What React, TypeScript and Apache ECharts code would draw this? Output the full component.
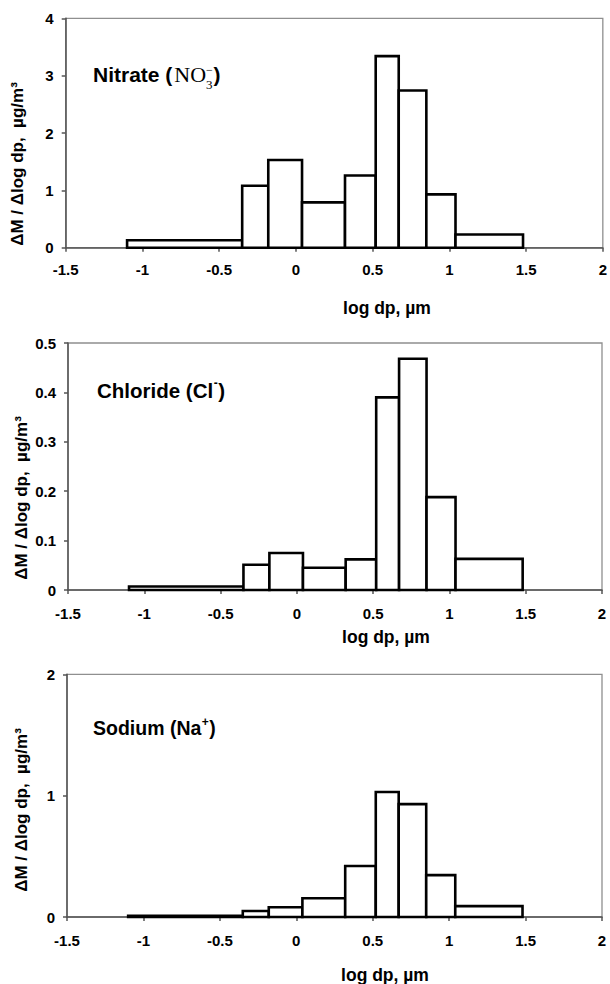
import React, { useEffect, useRef } from "react";
import * as echarts from "echarts";

// Bin edges, log10(dp / µm)
const binEdges = [-1.1, -0.35, -0.18, 0.04, 0.32, 0.52, 0.67, 0.85, 1.04, 1.48];
// dM / dlog dp, µg/m³
const nitrateValues = [0.13, 1.08, 1.53, 0.79, 1.26, 3.34, 2.74, 0.93, 0.23];
const chlorideValues = [0.007, 0.051, 0.075, 0.045, 0.062, 0.39, 0.468, 0.188, 0.063];
const sodiumValues = [0.01, 0.05, 0.08, 0.155, 0.42, 1.03, 0.93, 0.345, 0.09];

const xTicks = { min: -1.5, max: 2, interval: 0.5 };
const yTicksNitrate = { min: 0, max: 4, interval: 1 };
const yTicksChloride = { min: 0, max: 0.5, interval: 0.1 };
const yTicksSodium = { min: 0, max: 2, interval: 1 };

const yTitle = "ΔM / Δlog dp,  µg/m³";
const xTitle = "log dp, µm";

const SANS = '"Liberation Sans", Arial, sans-serif';
const SERIF = '"Liberation Serif", "Times New Roman", serif';
const AXIS_COLOR = "#555555";
const BORDER_COLOR = "#8f8f8f";

function toBins(values: number[]) {
  return values.map((v, i) => [binEdges[i], binEdges[i + 1], v]);
}

const grids = [
  { left: 65.7, top: 18.3, width: 541.3, height: 229.4 },
  { left: 68, top: 343, width: 534, height: 247 },
  { left: 67, top: 674.3, width: 535, height: 242.7 },
];
const xLabelMargins = [14.5, 16, 15.5];

function renderBar(params: any, api: any) {
  const p0 = api.coord([api.value(0), api.value(2)]);
  const p1 = api.coord([api.value(1), 0]);
  return {
    type: "rect",
    shape: { x: p0[0], y: p0[1], width: p1[0] - p0[0], height: p1[1] - p0[1] },
    style: { fill: "#ffffff", stroke: "#000000", lineWidth: 2.6 },
  };
}

function txt(x: number, y: number, text: string, font: string, extra: any = {}) {
  return {
    type: "text",
    x,
    y,
    silent: true,
    ...extra,
    style: {
      text,
      font,
      fill: "#000",
      textAlign: extra.align || "left",
      textVerticalAlign: "middle",
      align: extra.align || "left",
      verticalAlign: "middle",
    },
  };
}

type Piece = { text: string; font: string; dy?: number; gap?: number; stack?: boolean };

function runLabel(x0: number, y0: number, pieces: Piece[]) {
  const canvas = document.createElement("canvas");
  const ctx = canvas.getContext("2d") as CanvasRenderingContext2D;
  const out: any[] = [];
  let x = x0;
  let lastWidth = 0;
  let lastX = x0;
  pieces.forEach((p) => {
    ctx.font = p.font;
    const w = ctx.measureText(p.text).width;
    if (p.stack) {
      out.push(txt(lastX, y0 + (p.dy || 0), p.text, p.font));
      if (w > lastWidth) {
        x = lastX + w;
      }
      return;
    }
    x += p.gap || 0;
    out.push(txt(x, y0 + (p.dy || 0), p.text, p.font));
    lastX = x;
    lastWidth = w;
    x += w;
  });
  return out;
}

export default function App() {
  const ref = useRef<HTMLDivElement>(null);
  useEffect(() => {
    if (!ref.current) return;
    const chart = echarts.init(ref.current, null, { renderer: "svg" });
    const yTicks = [yTicksNitrate, yTicksChloride, yTicksSodium];
    const seriesValues = [nitrateValues, chlorideValues, sodiumValues];

    const option: any = {
      animation: false,
      backgroundColor: "#ffffff",
      grid: grids.map((g) => ({
        ...g,
        show: true,
        borderColor: BORDER_COLOR,
        borderWidth: 1.3,
        backgroundColor: "transparent",
        containLabel: false,
      })),
      xAxis: grids.map((_, i) => ({
        type: "value",
        gridIndex: i,
        min: xTicks.min,
        max: xTicks.max,
        interval: xTicks.interval,
        axisLine: { show: true, onZero: false, lineStyle: { color: AXIS_COLOR, width: 1.5 } },
        axisTick: { show: true, inside: false, length: 4, lineStyle: { color: AXIS_COLOR, width: 1.5 } },
        axisLabel: {
          show: true,
          margin: xLabelMargins[i],
          color: "#000",
          fontFamily: SANS,
          fontWeight: "bold",
          fontSize: 15,
          showMinLabel: true,
          showMaxLabel: true,
        },
        splitLine: { show: false },
      })),
      yAxis: grids.map((_, i) => ({
        type: "value",
        gridIndex: i,
        min: yTicks[i].min,
        max: yTicks[i].max,
        interval: yTicks[i].interval,
        axisLine: { show: true, onZero: false, lineStyle: { color: AXIS_COLOR, width: 1.5 } },
        axisTick: { show: true, inside: false, length: 4, lineStyle: { color: AXIS_COLOR, width: 1.5 } },
        axisLabel: {
          show: true,
          margin: 12,
          color: "#000",
          fontFamily: SANS,
          fontWeight: "bold",
          fontSize: 15,
        },
        splitLine: { show: false },
      })),
      series: seriesValues.map((vals, i) => ({
        type: "custom",
        xAxisIndex: i,
        yAxisIndex: i,
        renderItem: renderBar,
        encode: { x: [0, 1], y: 2 },
        data: toBins(vals),
        clip: false,
      })),
      graphic: [
        // y-axis titles
        txt(17.5, 164, yTitle, `bold 17px ${SANS}`, { rotation: Math.PI / 2, align: "center" }),
        txt(21, 498, yTitle, `bold 17px ${SANS}`, { rotation: Math.PI / 2, align: "center" }),
        txt(21, 810, yTitle, `bold 17px ${SANS}`, { rotation: Math.PI / 2, align: "center" }),
        // x-axis titles
        txt(387, 308, xTitle, `bold 17.5px ${SANS}`, { align: "center" }),
        txt(386, 637, xTitle, `bold 17.5px ${SANS}`, { align: "center" }),
        txt(385, 975, xTitle, `bold 17.5px ${SANS}`, { align: "center" }),
        // Nitrate (NO3-)
        ...runLabel(93, 74.7, [
          { text: "Nitrate (", font: `bold 21px ${SANS}` },
          { text: "NO", font: `22px ${SERIF}`, gap: 2 },
          { text: "3", font: `13px ${SERIF}`, dy: 9.5 },
          { text: "−", font: `12px ${SERIF}`, dy: -5, stack: true },
          { text: ")", font: `bold 21px ${SANS}`, gap: 0.5 },
        ]),
        // Chloride (Cl-)
        ...runLabel(97, 390.7, [
          { text: "Chloride (Cl", font: `bold 20.5px ${SANS}` },
          { text: "-", font: `bold 12px ${SANS}`, dy: -8, gap: 0.5 },
          { text: ")", font: `bold 20.5px ${SANS}`, gap: 0.5 },
        ]),
        // Sodium (Na+)
        ...runLabel(93, 727.5, [
          { text: "Sodium (Na", font: `bold 19.5px ${SANS}` },
          { text: "+", font: `bold 12px ${SANS}`, dy: -6, gap: 0.5 },
          { text: ")", font: `bold 19.5px ${SANS}`, gap: 0.5 },
        ]),
      ],
    };
    chart.setOption(option);
    return () => chart.dispose();
  }, []);

  return (
    <div
      ref={ref}
      style={{ position: "absolute", left: 0, top: 0, width: 610, height: 984, background: "#fff" }}
    />
  );
}
